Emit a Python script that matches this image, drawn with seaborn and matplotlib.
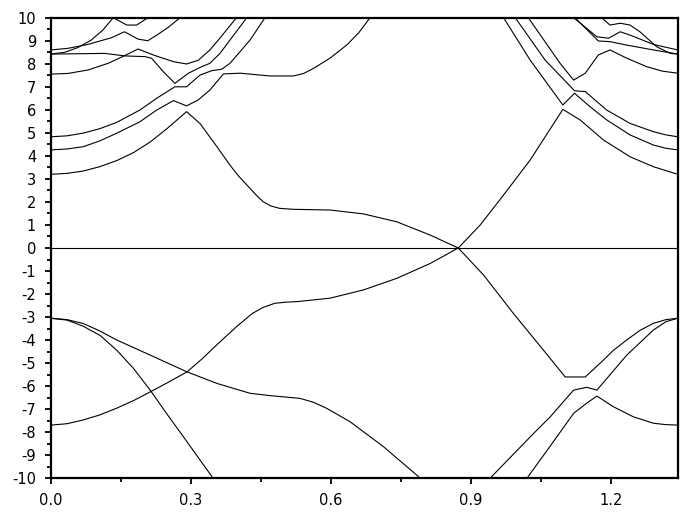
import numpy as np
import pandas as pd
import matplotlib
matplotlib.use("Agg")
import matplotlib.pyplot as plt
from matplotlib.ticker import MultipleLocator, FormatStrFormatter
import seaborn as sns

# ---- band data (k, E) ----
c1_k = [0, 0.035, 0.069, 0.105, 0.142, 0.178, 0.213, 0.250, 0.291, 0.320, 0.356, 0.384,
        0.400, 0.420, 0.440, 0.455, 0.472, 0.491, 0.520, 0.598, 0.670, 0.741, 0.813,
        0.873, 0.927, 0.991, 1.050, 1.102, 1.145, 1.177, 1.205, 1.234, 1.262, 1.291,
        1.318, 1.343]
c1_E = [3.2, 3.24, 3.34, 3.53, 3.8, 4.15, 4.6, 5.2, 5.92, 5.4, 4.4, 3.6,
        3.18, 2.74, 2.3, 2.01, 1.82, 1.72, 1.68, 1.65, 1.48, 1.14, 0.56,
        0.0, -1.17, -2.84, -4.3, -5.6, -5.6, -5.0, -4.45, -3.99, -3.58, -3.27,
        -3.11, -3.05]

x_k = [0, 0.035, 0.069, 0.105, 0.142, 0.178, 0.213, 0.250, 0.292, 0.325, 0.356, 0.400,
       0.432, 0.455, 0.480, 0.505, 0.527, 0.598, 0.670, 0.741, 0.813, 0.873, 0.920,
       0.970, 1.027, 1.097, 1.134, 1.184, 1.241, 1.291, 1.343]
x_E = [-7.69, -7.63, -7.47, -7.25, -6.95, -6.62, -6.25, -5.85, -5.38, -4.8, -4.2, -3.38,
       -2.84, -2.58, -2.40, -2.35, -2.33, -2.18, -1.82, -1.32, -0.67, 0.0, 1.00,
       2.30, 3.82, 6.02, 5.56, 4.69, 3.96, 3.53, 3.2]

c2l_k = [0, 0.035, 0.070, 0.105, 0.141, 0.191, 0.227, 0.263, 0.291, 0.316, 0.341, 0.370,
         0.406, 0.470, 0.520, 0.542, 0.563, 0.598, 0.634, 0.660, 0.684]
c2l_E = [4.26, 4.30, 4.40, 4.65, 4.98, 5.48, 5.99, 6.40, 6.17, 6.43, 6.86, 7.56,
         7.59, 7.47, 7.47, 7.58, 7.80, 8.24, 8.81, 9.35, 10.0]
c2r_k = [0.970, 1.027, 1.097, 1.122, 1.155, 1.191, 1.241, 1.291, 1.318, 1.343]
c2r_E = [10.0, 8.16, 6.21, 6.72, 6.14, 5.56, 4.91, 4.47, 4.33, 4.26]

c3l_k = [0, 0.035, 0.070, 0.105, 0.141, 0.191, 0.227, 0.266, 0.291, 0.320, 0.345, 0.366,
         0.384, 0.427, 0.459]
c3l_E = [4.83, 4.87, 4.99, 5.18, 5.45, 5.99, 6.50, 7.00, 7.00, 7.51, 7.70, 7.76,
         8.02, 9.03, 10.0]
c3r_k = [0.995, 1.059, 1.122, 1.145, 1.191, 1.241, 1.291, 1.318, 1.343]
c3r_E = [10.0, 8.16, 6.83, 6.79, 5.99, 5.41, 5.05, 4.91, 4.83]

c4l_k = [0, 0.037, 0.080, 0.123, 0.158, 0.187, 0.220, 0.263, 0.291, 0.316, 0.341, 0.359, 0.398]
c4l_E = [7.55, 7.58, 7.73, 8.02, 8.35, 8.64, 8.38, 8.09, 7.99, 8.15, 8.60, 9.03, 10.0]
c4r_k = [1.023, 1.091, 1.120, 1.145, 1.173, 1.198, 1.234, 1.277, 1.310, 1.343]
c4r_E = [10.0, 8.02, 7.29, 7.59, 8.38, 8.60, 8.24, 7.87, 7.68, 7.59]

h_k = [0, 0.116, 0.159, 0.202, 0.216, 0.241, 0.266, 0.295, 0.323, 0.341, 0.363, 0.384, 0.420]
h_E = [8.42, 8.45, 8.34, 8.31, 8.24, 7.66, 7.15, 7.59, 7.87, 8.02, 8.46, 9.03, 10.0]

t_k = [0, 0.030, 0.058, 0.087, 0.112, 0.134, 0.163, 0.184, 0.206, 0.212]
t_E = [8.42, 8.50, 8.70, 9.03, 9.47, 10.0, 9.68, 9.68, 9.97, 10.0]

a_k = [0, 0.037, 0.080, 0.130, 0.158, 0.187, 0.208, 0.230, 0.251, 0.273, 0.276]
a_E = [8.60, 8.67, 8.84, 9.13, 9.39, 9.07, 9.00, 9.28, 9.57, 9.93, 10.0]

q_k = [1.120, 1.170, 1.195, 1.220, 1.244, 1.291, 1.343]
q_E = [10.0, 9.17, 9.11, 9.39, 9.22, 8.84, 8.60]
r_k = [1.123, 1.173, 1.198, 1.234, 1.291, 1.343]
r_E = [10.0, 8.99, 8.96, 8.81, 8.60, 8.42]
p_k = [1.180, 1.198, 1.220, 1.241, 1.262, 1.298, 1.327, 1.343]
p_E = [10.0, 9.68, 9.76, 9.68, 9.39, 8.74, 8.45, 8.42]

v1_k = [0, 0.035, 0.070, 0.106, 0.141, 0.177, 0.213, 0.248, 0.284, 0.320, 0.348]
v1_E = [-3.05, -3.13, -3.40, -3.80, -4.43, -5.22, -6.17, -7.18, -8.19, -9.21, -10.0]
v2_k = [0, 0.035, 0.070, 0.105, 0.141, 0.213, 0.291, 0.356, 0.427, 0.470, 0.534, 0.563,
        0.591, 0.641, 0.713, 0.792]
v2_E = [-3.05, -3.11, -3.28, -3.60, -3.99, -4.65, -5.37, -5.88, -6.31, -6.41, -6.53, -6.70,
        -6.96, -7.54, -8.63, -10.0]
vr1_k = [0.941, 1.034, 1.070, 1.120, 1.148, 1.170, 1.234, 1.291, 1.318, 1.343]
vr1_E = [-10.0, -8.06, -7.33, -6.17, -6.05, -6.17, -4.65, -3.56, -3.20, -3.05]
vr2_k = [1.020, 1.070, 1.120, 1.148, 1.170, 1.205, 1.248, 1.291, 1.318, 1.343]
vr2_E = [-10.0, -8.6, -7.18, -6.74, -6.43, -6.89, -7.33, -7.61, -7.67, -7.69]

x_ticks = [0.0, 0.3, 0.6, 0.9, 1.2]
y_ticks = list(range(-10, 11))
k_max = 1.343

segments = {
    "c1": (c1_k, c1_E), "x": (x_k, x_E),
    "c2l": (c2l_k, c2l_E), "c2r": (c2r_k, c2r_E),
    "c3l": (c3l_k, c3l_E), "c3r": (c3r_k, c3r_E),
    "c4l": (c4l_k, c4l_E), "c4r": (c4r_k, c4r_E),
    "h": (h_k, h_E), "t": (t_k, t_E), "a": (a_k, a_E),
    "q": (q_k, q_E), "r": (r_k, r_E), "p": (p_k, p_E),
    "v1": (v1_k, v1_E), "v2": (v2_k, v2_E),
    "vr1": (vr1_k, vr1_E), "vr2": (vr2_k, vr2_E),
}
frames = []
for name, (k, e) in segments.items():
    frames.append(pd.DataFrame({"k": k, "E": e, "seg": name}))
df = pd.concat(frames, ignore_index=True)

sns.set_style("white")
plt.rcParams["font.family"] = ["DejaVu Sans"]
plt.rcParams["axes.unicode_minus"] = False

fig = plt.figure(figsize=(6.87, 5.12), dpi=100)
ax = fig.add_axes([50.7 / 687, 1 - 478.3 / 512, (677.7 - 50.7) / 687, (478.3 - 17.7) / 512])

sns.lineplot(data=df, x="k", y="E", units="seg", estimator=None, sort=False,
             color="black", lw=0.8, ax=ax, legend=False)
ax.axhline(0, color="black", lw=0.8)

ax.set_xlim(0, k_max)
ax.set_ylim(-10, 10)
ax.set_xticks(x_ticks)
ax.set_yticks(y_ticks)
ax.xaxis.set_minor_locator(MultipleLocator(0.15))
ax.yaxis.set_minor_locator(MultipleLocator(0.5))
ax.xaxis.set_major_formatter(FormatStrFormatter("%.1f"))
ax.set_xlabel("")
ax.set_ylabel("")
for s in ax.spines.values():
    s.set_linewidth(1.6)
    s.set_color("black")
    s.set_visible(True)
ax.tick_params(which="major", direction="out", length=4.5, width=1.3, colors="black",
               labelsize=10.5, pad=6, top=False, right=False, bottom=True, left=True)
ax.tick_params(which="minor", direction="out", length=2.6, width=1.3, colors="black",
               top=False, right=False, bottom=True, left=True)

fig.savefig("out.png", dpi=100, facecolor="white")
